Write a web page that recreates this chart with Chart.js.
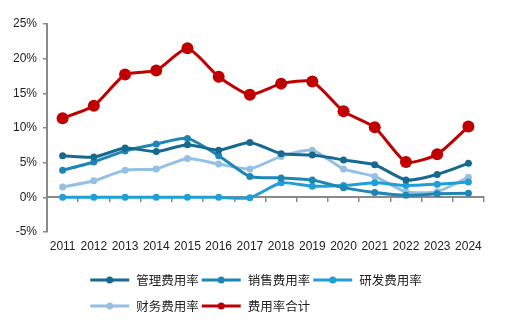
<!DOCTYPE html>
<html>
<head>
<meta charset="utf-8">
<script src="https://cdn.jsdelivr.net/npm/chart.js@4"></script>
<style>
    html, body { margin: 0; padding: 0; background: #ffffff; }
    #wrap { width: 507px; height: 328px; position: relative; }
</style>
</head>
<body>
<div id="wrap"><canvas id="graficoFeiyong"></canvas></div>
<script>
// 年份
const anos = ['2011', '2012', '2013', '2014', '2015', '2016', '2017', '2018', '2019', '2020', '2021', '2022', '2023', '2024'];

// 各项费用率 (%)
const guanli = [6.0, 5.8, 7.1, 6.6, 7.6, 6.8, 7.9, 6.3, 6.1, 5.4, 4.7, 2.5, 3.3, 4.9];
const xiaoshou = [3.9, 5.1, 6.7, 7.7, 8.5, 6.0, 3.0, 2.8, 2.5, 1.4, 0.7, 0.3, 0.5, 0.6];
const yanfa = [0.0, 0.0, 0.0, 0.0, 0.0, 0.0, -0.05, 2.1, 1.6, 1.7, 2.1, 1.7, 1.9, 2.2];
const caiwu = [1.5, 2.4, 3.9, 4.1, 5.6, 4.8, 4.1, 5.9, 6.8, 4.1, 3.0, 0.8, 0.8, 2.9];
const heji = [11.4, 13.2, 17.7, 18.3, 21.5, 17.4, 14.8, 16.4, 16.7, 12.4, 10.1, 5.1, 6.2, 10.2];

// 纵轴刻度
const yMin = -5;
const yMax = 25;
const yStep = 5;

const fonteTexto = '"Liberation Sans", "Noto Sans CJK SC", sans-serif';
const fonteLegenda = '"Noto Sans CJK SC", "Liberation Sans", sans-serif';
const corEixo = '#898989';

const serie = (label, data, cor, raio) => ({
    label: label,
    data: data,
    borderColor: cor,
    backgroundColor: cor,
    borderWidth: 3,
    pointRadius: raio,
    pointHoverRadius: raio,
    pointBorderWidth: 0,
    tension: 0.2,
    xAxisID: 'x'
});

// 图例:两行,每行左对齐,线段中间带圆点
const legendaPlugin = {
    id: 'legendaLinhas',
    afterDraw(chart) {
        const ctx = chart.ctx;
        const porLinha = 3;
        const linhaLen = 39;
        const gapTexto = 7;
        const gapItem = 3;
        const topo = 280;
        const passoY = 26;
        ctx.save();
        ctx.font = '12.5px ' + fonteLegenda;
        ctx.textBaseline = 'middle';
        const itens = chart.data.datasets.map(ds => ({
            texto: ds.label,
            cor: ds.borderColor,
            largura: linhaLen + gapTexto + ctx.measureText(ds.label).width + gapItem
        }));
        let larguraLinha1 = 0;
        itens.slice(0, porLinha).forEach(it => larguraLinha1 += it.largura);
        const inicioX = (chart.width - larguraLinha1) / 2 + 4;
        itens.forEach((it, i) => {
            const linha = Math.floor(i / porLinha);
            if (i % porLinha === 0) it.x = inicioX;
            else it.x = itens[i - 1].x + itens[i - 1].largura;
            const y = topo + linha * passoY;
            ctx.strokeStyle = it.cor;
            ctx.fillStyle = it.cor;
            ctx.lineWidth = 3;
            ctx.beginPath();
            ctx.moveTo(it.x, y);
            ctx.lineTo(it.x + linhaLen, y);
            ctx.stroke();
            ctx.beginPath();
            ctx.arc(it.x + linhaLen / 2, y, 3.5, 0, Math.PI * 2);
            ctx.fill();
            ctx.fillStyle = '#222222';
            ctx.fillText(it.texto, it.x + linhaLen + gapTexto, y + 0.5);
        });
        ctx.restore();
    }
};

new Chart(document.getElementById('graficoFeiyong').getContext('2d'), {
    type: 'line',
    data: {
        labels: anos,
        datasets: [
            serie('管理费用率', guanli, '#16698f', 3.5),
            serie('销售费用率', xiaoshou, '#1d86b5', 3.5),
            serie('研发费用率', yanfa, '#209fd6', 3.5),
            serie('财务费用率', caiwu, '#93c0e3', 3.5),
            serie('费用率合计', heji, '#c00000', 6)
        ]
    },
    options: {
        responsive: true,
        maintainAspectRatio: false,
        animation: false,
        layout: { padding: { left: 0, right: 23, top: 24, bottom: 68 } },
        plugins: {
            legend: { display: false },
            tooltip: { enabled: false }
        },
        scales: {
            x: {
                type: 'category',
                offset: true,
                grid: { display: false, drawTicks: false },
                border: { display: false },
                ticks: {
                    color: '#222222',
                    padding: 7,
                    maxRotation: 0,
                    autoSkip: false,
                    font: { family: fonteTexto, size: 12 }
                },
                afterFit: scale => { scale.height = 28; }
            },
            // 0% 处的横轴线和刻度
            x2: {
                type: 'category',
                labels: anos,
                offset: true,
                position: { y: 0 },
                grid: { offset: true, drawOnChartArea: false, drawTicks: true, tickLength: 4, color: corEixo, lineWidth: 1.5 },
                border: { display: true, color: corEixo, width: 2 },
                ticks: { display: false }
            },
            y: {
                min: yMin,
                max: yMax,
                grid: { drawOnChartArea: false, drawTicks: true, tickLength: 4, color: corEixo, lineWidth: 1.5 },
                border: { display: true, color: corEixo, width: 2 },
                ticks: {
                    stepSize: yStep,
                    color: '#222222',
                    padding: 6,
                    font: { family: fonteTexto, size: 12 },
                    callback: v => v + '%'
                },
                afterFit: scale => { scale.width = 47; }
            }
        }
    },
    plugins: [legendaPlugin]
});
</script>
</body>
</html>
